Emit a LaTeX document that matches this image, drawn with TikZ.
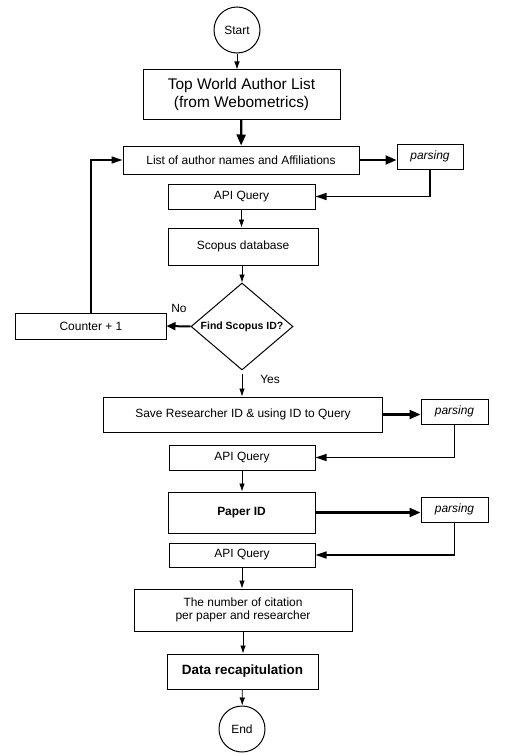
\documentclass[tikz,border=0pt]{standalone}
\usepackage{fontspec}
\setmainfont{Liberation Sans}
\usetikzlibrary{positioning,shapes.geometric,arrows.meta}

\begin{document}
\begin{tikzpicture}[x=1bp, y=-1bp, ->, >={Latex[length=8bp,width=5.5bp]}, line width=0.7bp,
	every node/.style={draw, line width=1bp, fill=white, font=\fontsize{12}{13.5}\selectfont, align=center, inner sep=2pt},
	bold arrow/.style={line width=2.2bp, -{Triangle[length=11bp,width=9bp]}},
	back arrow/.style={line width=1.3bp, -{Triangle[length=11bp,width=7bp]}},
	tag/.style={draw=none, fill=none}]
	\useasboundingbox (0,0) rectangle (528,756);
	\node [circle, minimum size=46bp, inner sep=0] (0) at (237,30) {Start};
	\node [minimum width=197bp, minimum height=49bp, font=\fontsize{15.5}{19}\selectfont] (1) at (241.5,94.5) {Top World Author List\\(from Webometrics)};
	\node [minimum width=236bp, minimum height=28bp] (2) at (241,160) {List of author names and Affiliations};
	\node [minimum width=66bp, minimum height=25bp, font=\fontsize{12}{13.5}\selectfont\itshape] (3) at (430,156.5) {parsing};
	\node [minimum width=147bp, minimum height=25bp] (4) at (241.5,196.5) {API Query};
	\node [minimum width=150bp, minimum height=37bp] (5) at (243,246.5) {Scopus database};
	\node [diamond, minimum width=102bp, minimum height=87bp, inner sep=0] (6) at (242,326.5) {\makebox[0pt]{\fontsize{10.5}{12}\selectfont\bfseries Find Scopus ID?}};
	\node [minimum width=150bp, minimum height=26bp] (7) at (91,326) {Counter + 1};
	\node [minimum width=278bp, minimum height=35bp] (8) at (243,414.5) {Save Researcher ID \& using ID to Query};
	\node [minimum width=67bp, minimum height=25bp, font=\fontsize{12}{13.5}\selectfont\itshape] (9) at (454.5,411.5) {parsing};
	\node [minimum width=146bp, minimum height=25bp] (10) at (242,457.5) {API Query};
	\node [minimum width=147bp, minimum height=41bp, font=\fontsize{12}{13.5}\selectfont\bfseries] (11) at (241.5,512.5) {Paper ID};
	\node [minimum width=67bp, minimum height=25bp, font=\fontsize{12}{13.5}\selectfont\itshape] (12) at (454.5,509.5) {parsing};
	\node [minimum width=146bp, minimum height=24bp] (13) at (242,555) {API Query};
	\node [minimum width=218bp, minimum height=42bp] (14) at (243,610) {The number of citation\\per paper and researcher};
	\node [minimum width=151bp, minimum height=35bp, font=\fontsize{13.5}{15}\selectfont\bfseries] (15) at (242.5,671.5) {Data recapitulation};
	\node [circle, minimum size=46bp, inner sep=0] (16) at (242,729) {End};
	\node [tag] (no) at (179,308) {No};
	\node [tag] (yes) at (270,379) {Yes};

	\draw (0) -- (0 |- 1.north);
	\draw [bold arrow] (1) -- (2);
	\draw [bold arrow] (2.east) -- (2.east -| 3.west);
	\draw [back arrow] (3.south) |- (4.east);
	\draw (4) -- (4 |- 5.north);
	\draw (5.south -| 6.north) -- (6.north);
	\draw [line width=2bp, -{Triangle[length=9bp,width=8bp]}] (6.west) -- (7.east);
	\draw [back arrow] (7.north) |- (2.west);
	\draw [shorten <=3bp] (6.south) -- (6.south |- 8.north);
	\draw [bold arrow] (8.east) -- (8.east -| 9.west);
	\draw [back arrow] (9.south) |- (10.east);
	\draw (10) -- (10 |- 11.north);
	\draw [bold arrow] (11.east) -- (11.east -| 12.west);
	\draw [back arrow] (12.south) |- (13.east);
	\draw (13) -- (13 |- 14.north);
	\draw (14) -- (14 |- 15.north);
	\draw (15) -- (16);
\end{tikzpicture}
\end{document}
